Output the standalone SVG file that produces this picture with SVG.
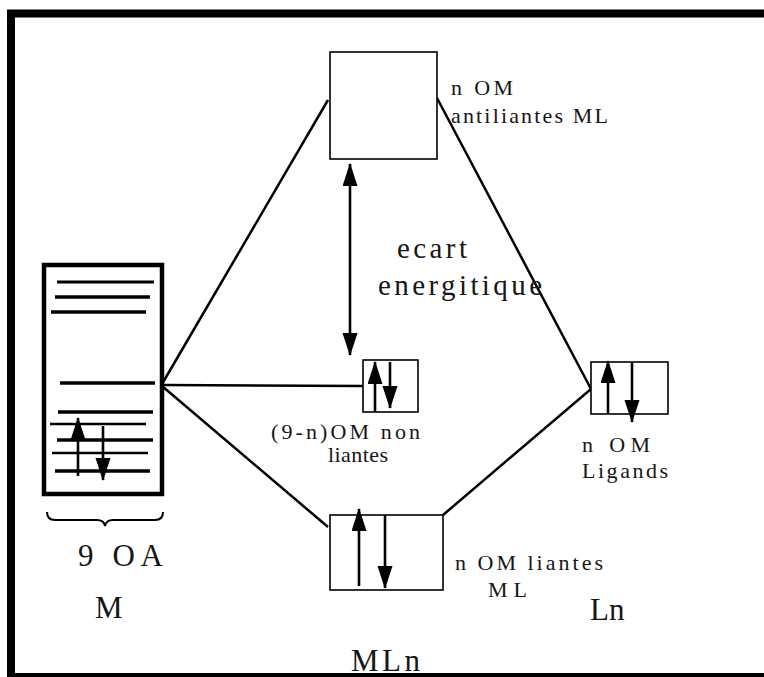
<svg xmlns="http://www.w3.org/2000/svg" width="764" height="677" viewBox="0 0 764 677">
<style>
.ln{stroke:#000;stroke-width:2.5;fill:none}
.box{stroke:#000;stroke-width:1.6;fill:#fff}
.lv{stroke:#000;fill:none;stroke-linecap:butt}
.ar{stroke:#000;stroke-width:2.6;fill:none}
text{font-family:"Liberation Serif","Times New Roman",serif;fill:#161616}
.s{font-size:22px}
.b{font-size:31px}
.m{font-size:29px}
</style>
<defs>
<marker id="ah" markerUnits="userSpaceOnUse" markerWidth="24" markerHeight="16" viewBox="0 0 24 16" refX="22" refY="7.5" orient="auto">
<path d="M0,0 L23,7.5 L0,15 Z" fill="#000"/>
</marker>
<marker id="ahs" markerUnits="userSpaceOnUse" markerWidth="24" markerHeight="16" viewBox="0 0 24 16" refX="22" refY="7.5" orient="auto-start-reverse">
<path d="M0,0 L23,7.5 L0,15 Z" fill="#000"/>
</marker>
</defs>
<rect x="0" y="0" width="764" height="677" fill="#fff"/>
<rect id="frame" x="11" y="13.5" width="800" height="663.5" fill="none" stroke="#000" stroke-width="8"/>

<g id="connectors">
<line class="ln" x1="162" y1="384" x2="328" y2="100"/>
<line class="ln" x1="162" y1="385" x2="363" y2="386"/>
<line class="ln" x1="162" y1="386" x2="328" y2="527"/>
<line class="ln" x1="437" y1="98" x2="591" y2="389"/>
<line class="ln" x1="443" y1="515" x2="591" y2="389"/>
<line class="ar" x1="350" y1="164" x2="350" y2="355" marker-start="url(#ahs)" marker-end="url(#ahs)"/>
</g>

<g id="node-M">
<rect x="44" y="265" width="118" height="229" fill="#fff" stroke="#000" stroke-width="4.5"/>
<line class="lv" stroke-width="3" x1="57" y1="282" x2="154" y2="282"/>
<line class="lv" stroke-width="3.5" x1="55" y1="297" x2="150" y2="297"/>
<line class="lv" stroke-width="3.5" x1="51" y1="312" x2="146" y2="312"/>
<line class="lv" stroke-width="3.5" x1="60" y1="383" x2="155" y2="383"/>
<line class="lv" stroke-width="3.5" x1="58" y1="412" x2="153" y2="412"/>
<line class="lv" stroke-width="2.5" x1="50" y1="424" x2="146" y2="424"/>
<line class="lv" stroke-width="3.5" x1="57" y1="440" x2="153" y2="440"/>
<line class="lv" stroke-width="2.5" x1="52" y1="453" x2="148" y2="453"/>
<line class="lv" stroke-width="3.5" x1="55" y1="471" x2="150" y2="471"/>
<line class="ar" x1="78" y1="476" x2="78" y2="418" marker-end="url(#ah)"/>
<line class="ar" x1="103" y1="426" x2="103" y2="480" marker-end="url(#ah)"/>
<path d="M47,512 Q47,520 55,520 L97,520 Q104,520 105,526 Q106,520 113,520 L155,520 Q163,520 163,512" fill="none" stroke="#000" stroke-width="2"/>
<text class="b" x="78" y="566" textLength="85">9  OA</text>
<text class="b" x="95" y="618">M</text>
</g>

<g id="node-antiliantes">
<rect class="box" x="330" y="52" width="107" height="107"/>
<text class="s" x="451" y="95" textLength="62">n OM</text>
<text class="s" x="451" y="123" textLength="157">antiliantes ML</text>
</g>

<g id="label-ecart">
<text class="m" x="397" y="258" textLength="70">ecart</text>
<text class="m" x="378" y="295" textLength="164">energitique</text>
</g>

<g id="node-nonliantes">
<rect class="box" x="363" y="360" width="55" height="52"/>
<line class="ar" x1="375" y1="412" x2="375" y2="362" marker-end="url(#ah)"/>
<line class="ar" x1="390" y1="362" x2="390" y2="408" marker-end="url(#ah)"/>
<text class="s" x="271" y="439" textLength="149">(9-n)OM  non</text>
<text class="s" x="328" y="462" textLength="60">liantes</text>
</g>

<g id="node-ligands">
<rect class="box" x="591" y="362" width="77" height="52"/>
<line class="lv" stroke-width="1.6" x1="632" y1="362" x2="632" y2="414"/>
<line class="ar" x1="608" y1="414" x2="608" y2="361" marker-end="url(#ah)"/>
<line class="ar" x1="632" y1="362" x2="632" y2="422" marker-end="url(#ah)"/>
<text class="s" x="582" y="452" textLength="68">n  OM</text>
<text class="s" x="582" y="478" textLength="86">Ligands</text>
<text class="b" x="590" y="620">Ln</text>
</g>

<g id="node-liantes">
<rect class="box" x="330" y="515" width="113" height="75"/>
<line class="ar" x1="359" y1="586" x2="359" y2="509" marker-end="url(#ah)"/>
<line class="ar" x1="385" y1="515" x2="385" y2="588" marker-end="url(#ah)"/>
<text class="s" x="455" y="570" textLength="148">n OM  liantes</text>
<text class="s" x="488" y="597" textLength="39">ML</text>
<text class="b" x="351" y="671" textLength="69">MLn</text>
</g>
</svg>
